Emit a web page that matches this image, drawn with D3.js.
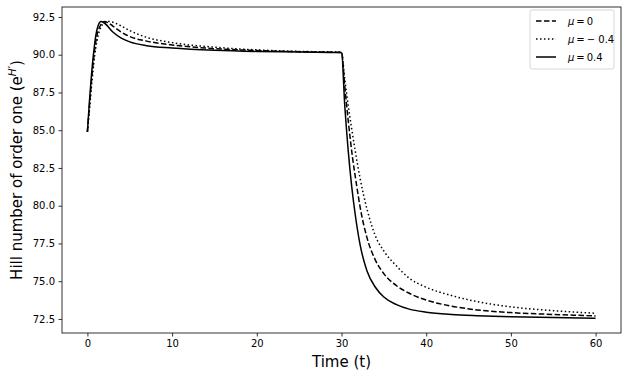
<!DOCTYPE html>
<html>
<head>
<meta charset="utf-8">
<script src="https://cdn.jsdelivr.net/npm/d3@7"></script>
<style>
  body { margin: 0; background: #fff; }
  text { font-family: "DejaVu Sans", sans-serif; fill: #000; }
</style>
</head>
<body>
<div id="chart"></div>
<script>
const width = 626
const height = 376
const margin = { top: 7, right: 5, bottom: 43, left: 62 }

// values
const timeMu0 = [0, 0.25, 0.5, 0.75, 1, 1.5, 2, 2.5, 3, 4, 5, 7, 10, 15, 20, 25, 30,
  30.4, 30.8, 31.3, 31.8, 32.2, 33, 34, 35, 36.5, 38, 40, 43, 46, 50, 55, 60]
const hillMu0 = [84.9, 86.7, 88.4, 89.8, 90.9, 91.9, 92.2, 92.1, 91.9, 91.5, 91.2, 90.9, 90.65, 90.4, 90.28, 90.2, 90.15,
  87.8, 85.6, 83.2, 81.3, 79.9, 77.9, 76.4, 75.5, 74.7, 74.2, 73.75, 73.35, 73.1, 72.92, 72.8, 72.7]

const timeMuNeg = [0, 0.25, 0.5, 0.75, 1, 1.5, 2, 2.5, 3, 4, 5, 7, 10, 15, 20, 25, 30,
  30.4, 30.8, 31.2, 31.6, 32.2, 33, 34, 35, 36.5, 38, 40, 43, 46, 50, 55, 60]
const hillMuNeg = [84.9, 86.4, 88.0, 89.4, 90.5, 91.7, 92.1, 92.2, 92.15, 91.9, 91.6, 91.15, 90.8, 90.5, 90.32, 90.22, 90.17,
  88.3, 86.6, 85.1, 83.7, 81.8, 79.8, 78.0, 77.0, 76.0, 75.2, 74.6, 74.05, 73.65, 73.3, 73.05, 72.88]

const timeMuPos = [0, 0.25, 0.5, 0.75, 1, 1.25, 1.6, 2, 3, 4, 5, 7, 10, 15, 20, 25, 30,
  30.4, 30.8, 31.2, 31.6, 32.2, 33, 34, 35, 36.5, 38, 40, 43, 46, 50, 55, 60]
const hillMuPos = [84.9, 87.0, 88.8, 90.2, 91.3, 91.9, 92.2, 92.1, 91.5, 91.1, 90.85, 90.6, 90.45, 90.3, 90.22, 90.18, 90.15,
  86.5, 83.6, 81.3, 79.5, 77.4, 75.7, 74.6, 73.95, 73.45, 73.15, 72.95, 72.8, 72.72, 72.65, 72.6, 72.55]

const xTicks = [0, 10, 20, 30, 40, 50, 60]
const yTicks = [72.5, 75, 77.5, 80, 82.5, 85, 87.5, 90, 92.5]

const series = [
  { label: '0', time: timeMu0, hill: hillMu0, dash: '5.55,2.4' },
  { label: '\u2212 0.4', time: timeMuNeg, hill: hillMuNeg, dash: '1.5,2.475' },
  { label: '0.4', time: timeMuPos, hill: hillMuPos, dash: null }
]

const svg = d3.select('#chart').append('svg')
  .attr('width', width)
  .attr('height', height)

const xScale = d3.scaleLinear().domain([-3, 63]).range([margin.left, width - margin.right])
const yScale = d3.scaleLinear().domain([71.57, 93.16]).range([height - margin.bottom, margin.top])

const line = d3.line()
  .x((d) => xScale(d[0]))
  .y((d) => yScale(d[1]))
  .curve(d3.curveMonotoneX)

svg.append('g')
  .selectAll('path')
  .data(series)
  .join('path')
  .attr('d', (s) => line(s.time.map((t, i) => [t, s.hill[i]])))
  .attr('fill', 'none')
  .attr('stroke', '#000')
  .attr('stroke-width', 1.5)
  .attr('stroke-dasharray', (s) => s.dash)

// axes
const xAxis = svg.append('g')
  .attr('transform', `translate(0,${height - margin.bottom})`)
  .call(d3.axisBottom(xScale).tickValues(xTicks).tickSize(3.5).tickPadding(3.5).tickFormat(d3.format('d')))
const yAxis = svg.append('g')
  .attr('transform', `translate(${margin.left},0)`)
  .call(d3.axisLeft(yScale).tickValues(yTicks).tickSize(3.5).tickPadding(3.5).tickFormat(d3.format('.1f')))

for (const ax of [xAxis, yAxis]) {
  ax.select('.domain').remove()
  ax.selectAll('line').attr('stroke', '#000').attr('stroke-width', 0.8)
  ax.selectAll('text').attr('font-size', 10).attr('font-family', 'DejaVu Sans')
}

// frame
svg.append('rect')
  .attr('x', margin.left)
  .attr('y', margin.top)
  .attr('width', width - margin.left - margin.right)
  .attr('height', height - margin.top - margin.bottom)
  .attr('fill', 'none')
  .attr('stroke', '#000')
  .attr('stroke-width', 0.8)

// labels
svg.append('text')
  .attr('x', (margin.left + width - margin.right) / 2)
  .attr('y', 367)
  .attr('text-anchor', 'middle')
  .attr('font-size', 15)
  .text('Time (t)')

const yLabel = svg.append('text')
  .attr('transform', `translate(22,${(margin.top + height - margin.bottom) / 2}) rotate(-90)`)
  .attr('text-anchor', 'middle')
  .attr('font-size', 15)
yLabel.append('tspan').text('Hill number of order one (e')
yLabel.append('tspan').attr('font-size', 10.5).attr('font-style', 'italic').attr('dy', -6).text('H')
yLabel.append('tspan').attr('font-size', 10.5).text('\u2032')
yLabel.append('tspan').attr('dy', 6).text(')')

// legend
const legend = svg.append('g').attr('transform', 'translate(530,10)')
legend.append('rect')
  .attr('width', 84)
  .attr('height', 59)
  .attr('rx', 2)
  .attr('fill', '#fff')
  .attr('stroke', '#ccc')
  .attr('stroke-width', 0.8)

const item = legend.selectAll('g.item')
  .data(series)
  .join('g')
  .attr('class', 'item')
  .attr('transform', (d, i) => `translate(0,${11 + i * 18})`)

item.append('line')
  .attr('x1', 6).attr('x2', 26)
  .attr('stroke', '#000')
  .attr('stroke-width', 1.5)
  .attr('stroke-dasharray', (s) => s.dash)

const itemText = item.append('text')
  .attr('x', 38)
  .attr('y', 3.5)
  .attr('font-size', 10)
itemText.append('tspan').attr('font-style', 'italic').text('\u03bc')
itemText.append('tspan').text((s) => '\u2009=\u2009' + s.label)
</script>
</body>
</html>
